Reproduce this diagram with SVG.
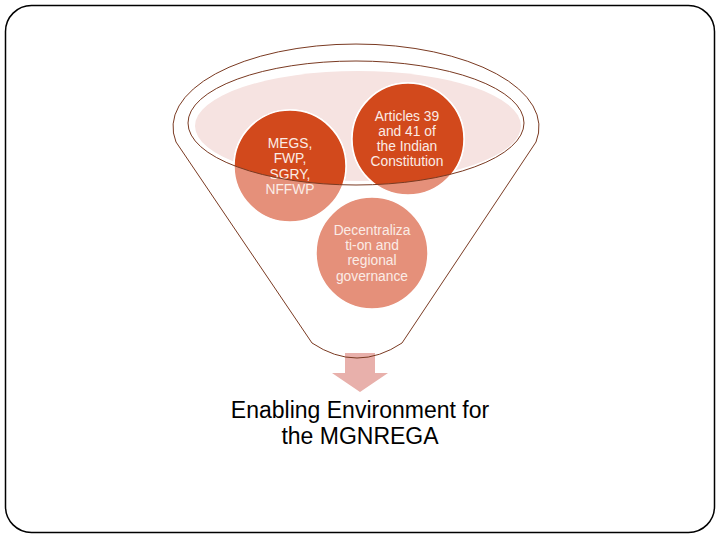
<svg xmlns="http://www.w3.org/2000/svg" width="720" height="540" viewBox="0 0 720 540">
<style>
.frame{fill:#fff;stroke:#000;stroke-width:1.5}
.line{fill:none;stroke:#7a3a22;stroke-width:1}
.dark{fill:#d2491c;stroke:#fff;stroke-width:1.5}
.light{fill:#e5907a;stroke:#fff;stroke-width:1.5}
.ct{font-family:"Liberation Sans",Arial,sans-serif;font-size:13.8px;fill:#fbece6;text-anchor:middle}
.big{font-family:"Liberation Sans",Arial,sans-serif;font-size:23px;fill:#000;text-anchor:middle}
</style>
<defs>
<clipPath id="inner"><ellipse cx="356" cy="123" rx="168" ry="62"/></clipPath>
</defs>
<rect class="frame" x="5.5" y="5.5" width="709" height="527" rx="26"/>
<g id="arrow"><path d="M345,353 H375 V373 H388 L360,392 L332,373 H345 Z" fill="#e8b0ab"/></g>
<g id="funnel">
<path class="line" d="M312,343 L176,142 A183 83 0 1 1 536,142 L402,343 Q357,373 312,343 Z"/>
<ellipse cx="358" cy="126" rx="163" ry="55" fill="#f6e3e1"/>
</g>
<g id="node-megs">
<circle class="light" cx="290" cy="166" r="56"/>
<circle class="dark" cx="290" cy="166" r="56" clip-path="url(#inner)"/>
<text class="ct" x="290" y="148">MEGS,</text>
<text class="ct" x="290" y="163">FWP,</text>
<text class="ct" x="290" y="179">SGRY,</text>
<text class="ct" x="290" y="194">NFFWP</text>
</g>
<g id="node-articles">
<circle class="light" cx="408" cy="139" r="56"/>
<circle class="dark" cx="408" cy="139" r="56" clip-path="url(#inner)"/>
<text class="ct" x="407" y="121">Articles 39</text>
<text class="ct" x="407" y="136">and 41 of</text>
<text class="ct" x="407" y="151">the Indian</text>
<text class="ct" x="407" y="166">Constitution</text>
</g>
<g id="rim"><ellipse class="line" cx="356" cy="123" rx="168" ry="62"/></g>
<g id="node-decentralization">
<circle class="light" cx="372" cy="253" r="56"/>
<text class="ct" x="372" y="235">Decentraliza</text>
<text class="ct" x="372" y="250">ti-on and</text>
<text class="ct" x="372" y="265">regional</text>
<text class="ct" x="372" y="281">governance</text>
</g>
<g id="node-result">
<text class="big" x="360" y="418">Enabling Environment for</text>
<text class="big" x="360" y="444">the MGNREGA</text>
</g>
</svg>
